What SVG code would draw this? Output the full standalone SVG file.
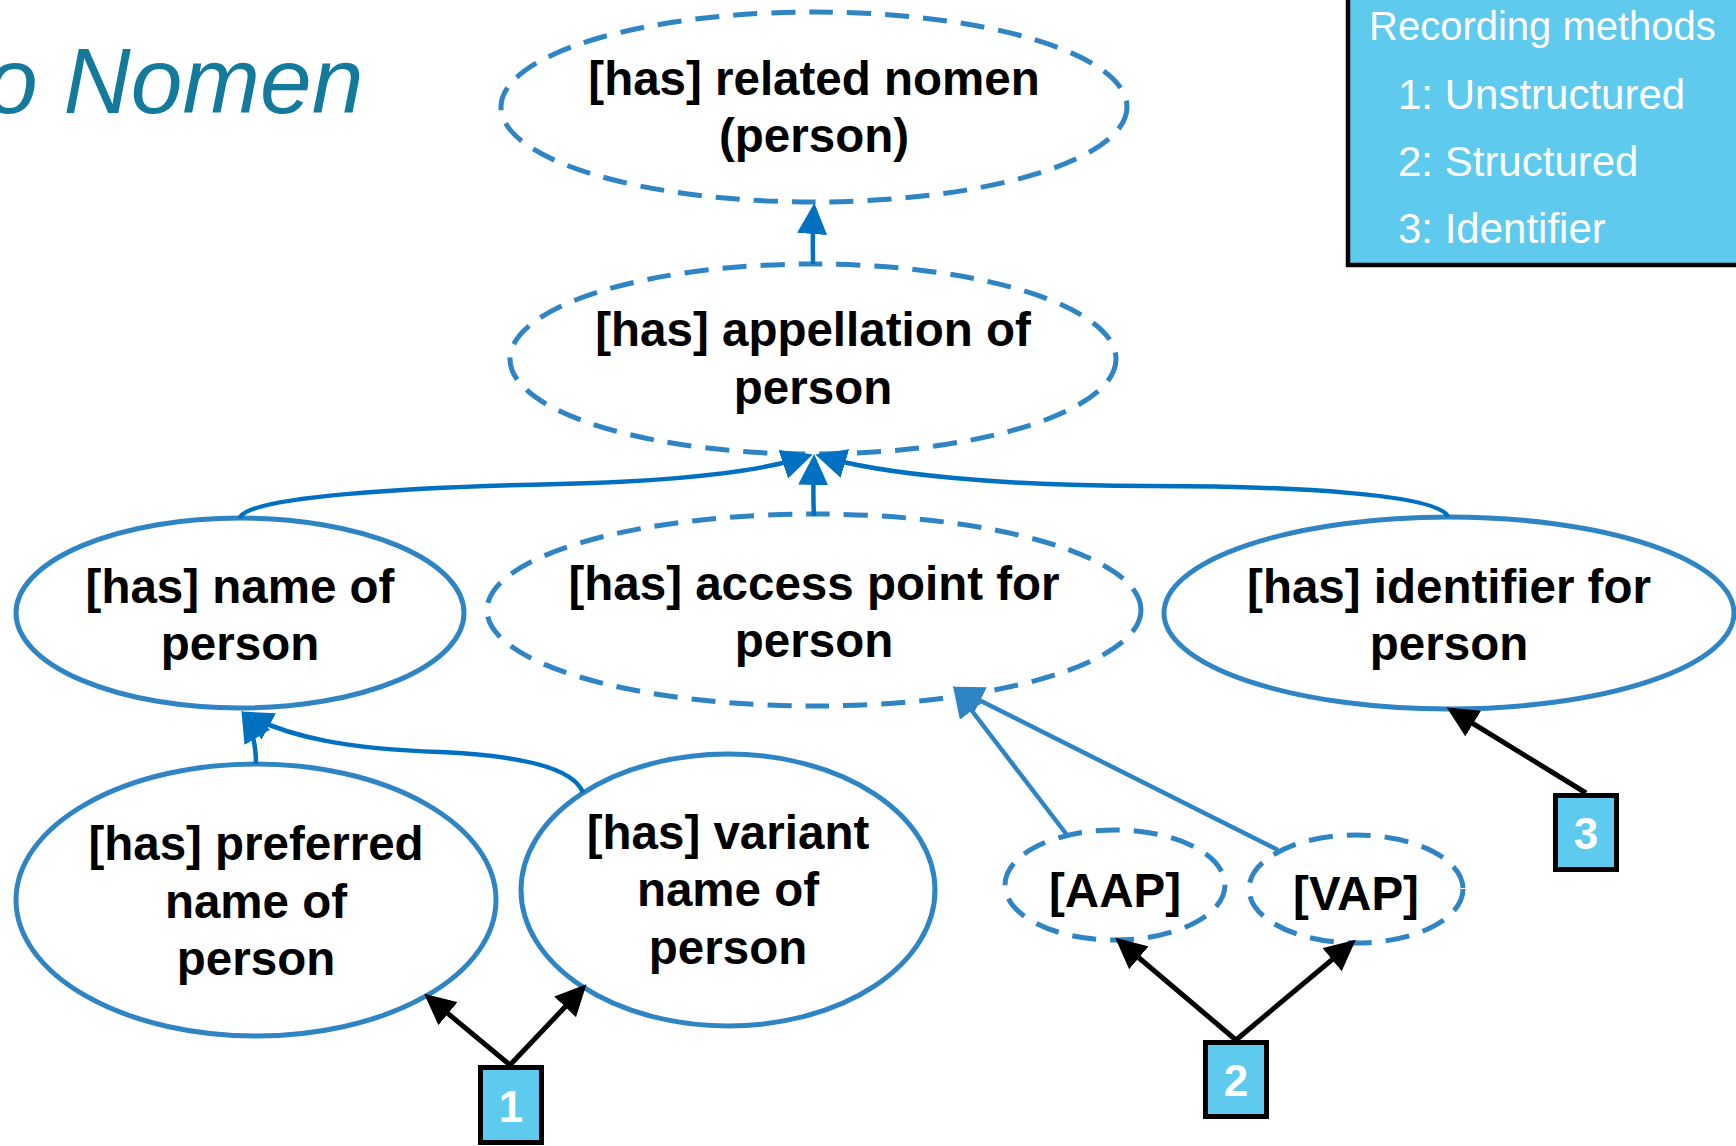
<svg xmlns="http://www.w3.org/2000/svg" width="1736" height="1146" viewBox="0 0 1736 1146">
<defs>
<style>
.node ellipse{fill:#fff;stroke:#2F84C4;stroke-width:5}
.dash{stroke-dasharray:24 14}
.lbl{font-family:"Liberation Sans",Arial,sans-serif;font-weight:bold;font-size:47.5px;text-anchor:middle;fill:#000}
.box rect{fill:#5DCAEE;stroke:#000;stroke-width:5}
.num{font-family:"Liberation Sans",Arial,sans-serif;font-weight:bold;font-size:44px;text-anchor:middle;fill:#fff}
.leg{font-family:"Liberation Sans",Arial,sans-serif;font-size:42px;fill:#fff}
.leg.hd{font-size:40px}
.dk{fill:none;stroke:#0070C0;stroke-width:4.5}
.lt{fill:none;stroke:#2F84C4;stroke-width:4.5}
.bk{fill:none;stroke:#000;stroke-width:5}
</style>
<marker id="ahDk" markerUnits="userSpaceOnUse" markerWidth="32" markerHeight="30" refX="26" refY="15" orient="auto"><path d="M0,0 L31,15 L0,30 z" fill="#0070C0"/></marker>
<marker id="ahLt" markerUnits="userSpaceOnUse" markerWidth="32" markerHeight="30" refX="26" refY="15" orient="auto"><path d="M0,0 L31,15 L0,30 z" fill="#2F84C4"/></marker>
<marker id="ahBk" markerUnits="userSpaceOnUse" markerWidth="32" markerHeight="30" refX="26" refY="15" orient="auto"><path d="M0,0 L31,15 L0,30 z" fill="#000"/></marker>
</defs>
<rect width="1736" height="1146" fill="#fff"/>
<text x="-14" y="113" font-family="'Liberation Sans',Arial,sans-serif" font-style="italic" font-size="93" fill="#147A9B">o Nomen</text>
<g id="legend">
<rect x="1348" y="-6" width="400" height="271" fill="#5DCAEE" stroke="#000" stroke-width="4.5"/>
<text class="leg hd" x="1369" y="40">Recording methods</text>
<text class="leg" x="1398" y="109">1: Unstructured</text>
<text class="leg" x="1398" y="176">2: Structured</text>
<text class="leg" x="1398" y="243">3: Identifier</text>
</g>
<g id="related-nomen" class="node"><ellipse class="dash" cx="814" cy="107" rx="313" ry="95"/><text class="lbl" x="814" y="95">[has] related nomen</text><text class="lbl" x="814" y="152">(person)</text></g>
<g id="appellation" class="node"><ellipse class="dash" cx="813" cy="359" rx="303" ry="95"/><text class="lbl" x="813" y="346">[has] appellation of</text><text class="lbl" x="813" y="404">person</text></g>
<g id="name-of-person" class="node"><ellipse cx="240" cy="613" rx="224" ry="95"/><text class="lbl" x="240" y="603">[has] name of</text><text class="lbl" x="240" y="660">person</text></g>
<g id="access-point" class="node"><ellipse class="dash" cx="814" cy="610" rx="327" ry="96"/><text class="lbl" x="814" y="600">[has] access point for</text><text class="lbl" x="814" y="657">person</text></g>
<g id="identifier" class="node"><ellipse cx="1449" cy="613" rx="285" ry="96"/><text class="lbl" x="1449" y="603">[has] identifier for</text><text class="lbl" x="1449" y="660">person</text></g>
<g id="preferred" class="node"><ellipse cx="256" cy="900" rx="240" ry="136"/><text class="lbl" x="256" y="860">[has] preferred</text><text class="lbl" x="256" y="918">name of</text><text class="lbl" x="256" y="975">person</text></g>
<g id="variant" class="node"><ellipse cx="728" cy="890" rx="207" ry="136"/><text class="lbl" x="728" y="849">[has] variant</text><text class="lbl" x="728" y="906">name of</text><text class="lbl" x="728" y="964">person</text></g>
<g id="aap" class="node"><ellipse class="dash" cx="1115" cy="885" rx="110" ry="55"/><text class="lbl" x="1115" y="907">[AAP]</text></g>
<g id="vap" class="node"><ellipse class="dash" cx="1356" cy="889" rx="107" ry="54"/><text class="lbl" x="1356" y="910">[VAP]</text></g>
<g id="box1" class="box"><rect x="480.5" y="1067.5" width="61" height="75"/><text class="num" x="511" y="1122">1</text></g>
<g id="box2" class="box"><rect x="1205.5" y="1042.5" width="61" height="74"/><text class="num" x="1236" y="1096">2</text></g>
<g id="box3" class="box"><rect x="1555.5" y="795.5" width="61" height="74"/><text class="num" x="1586" y="849">3</text></g>
<g id="connectors">
<path class="dk" d="M813,264 C813,250 812,235 814,208" marker-end="url(#ahDk)"/>
<path class="dk" d="M240,518 C244,496 420,487 560,484 C680,481 760,472 808,456" marker-end="url(#ahDk)"/>
<path class="dk" d="M814,516 C813,500 813,490 814,459" marker-end="url(#ahDk)"/>
<path class="dk" d="M1448,517 C1440,494 1290,486 1150,486 C1000,486 880,474 820,456" marker-end="url(#ahDk)"/>
<path class="dk" d="M256,764 C256,745 253,730 244,715" marker-end="url(#ahDk)"/>
<path class="dk" d="M583,793 C575,770 530,756 440,752 C350,749 290,738 246,714" marker-end="url(#ahDk)"/>
<path class="lt" d="M1067,835 L956,690" marker-end="url(#ahLt)"/>
<path class="lt" d="M1278,850 L957,689" marker-end="url(#ahLt)"/>
<path class="bk" d="M1586,793 L1451,710" marker-end="url(#ahBk)"/>
<path class="bk" d="M1236,1040 L1119,941" marker-end="url(#ahBk)"/>
<path class="bk" d="M1236,1040 L1352,943" marker-end="url(#ahBk)"/>
<path class="bk" d="M510,1065 L428,997" marker-end="url(#ahBk)"/>
<path class="bk" d="M510,1065 L583,988" marker-end="url(#ahBk)"/>
</g>
</svg>
